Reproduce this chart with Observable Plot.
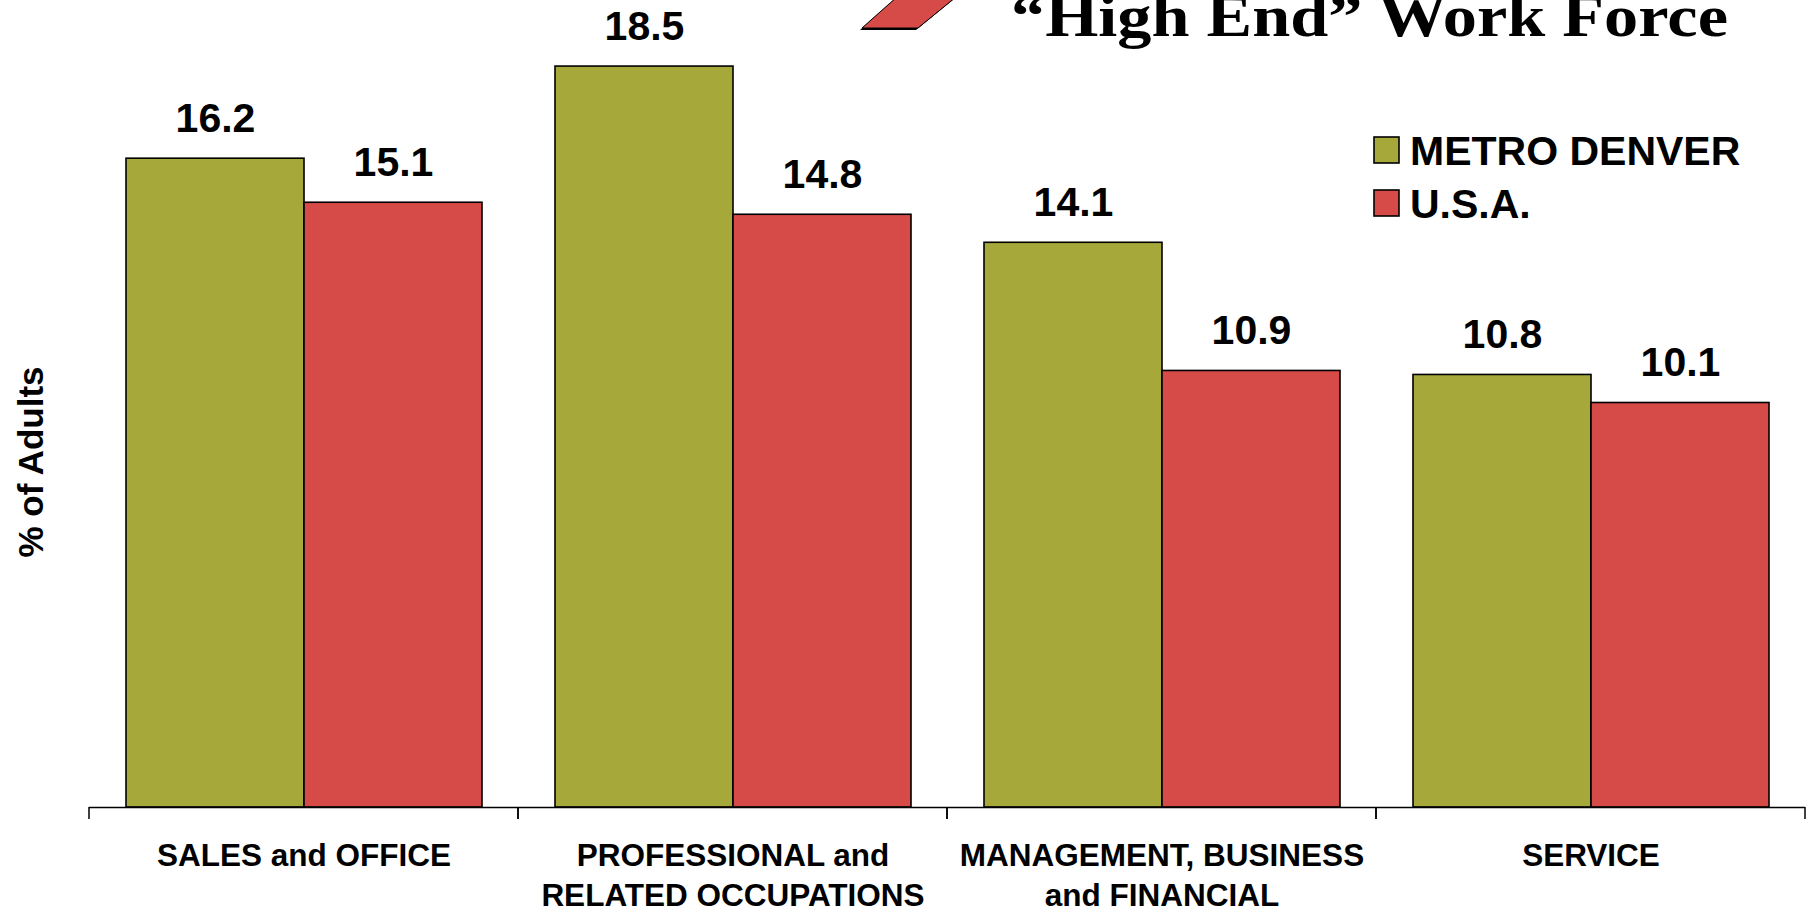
<!DOCTYPE html>
<html>
<head>
<meta charset="utf-8">
<script src="https://cdn.jsdelivr.net/npm/d3@7"></script>
<script src="https://cdn.jsdelivr.net/npm/@observablehq/plot@0.6"></script>
<style>
  html, body { margin: 0; padding: 0; background: #ffffff; }
  #wrap { position: relative; width: 1810px; height: 917px; overflow: hidden; background: #ffffff; }
  #chart { position: absolute; left: 0; top: 0; }
  #overlay { position: absolute; left: 0; top: 0; pointer-events: none; }
</style>
</head>
<body>
<div id="wrap">
  <div id="chart"></div>
  <svg id="overlay" width="1810" height="917"></svg>
</div>
<script>
// ---- data ----
const categories = [
  "SALES and OFFICE",
  "PROFESSIONAL and\nRELATED OCCUPATIONS",
  "MANAGEMENT, BUSINESS\nand FINANCIAL",
  "SERVICE"
];
const series = ["METRO DENVER", "U.S.A."];
const metroDenver = [16.2, 18.5, 14.1, 10.8];
const usa = [15.1, 14.8, 10.9, 10.1];
const seriesColors = ["#A6A93A", "#D64A47"];
const titleText = "\u201CHigh End\u201D Work Force";
const yLabel = "% of Adults";

const data = categories.flatMap((c, i) => [
  {category: c, series: series[0], value: metroDenver[i]},
  {category: c, series: series[1], value: usa[i]}
]);

// boundary ticks under the baseline, at the edges of each category band
const boundaryTicks = Plot.ruleY([0], {
  render(index, scales) {
    const {x, y} = scales;
    const [a, b] = x.range();
    const y0 = y(0);
    const g = d3.create("svg:g");
    for (const xx of [a, b]) {
      g.append("line")
        .attr("x1", xx).attr("x2", xx)
        .attr("y1", y0).attr("y2", y0 + 12)
        .attr("stroke", "black").attr("stroke-width", 1.5);
    }
    return g.node();
  }
});

const chart = Plot.plot({
  width: 1810,
  height: 917,
  marginLeft: 88,
  marginRight: 4,
  marginTop: 6,
  marginBottom: 110,
  style: {fontFamily: "'Liberation Sans', Arial, sans-serif", fontWeight: "bold", background: "white", color: "black"},
  fx: {domain: categories, padding: 0, label: null},
  x: {domain: series, paddingInner: 0, paddingOuter: 0.2, axis: null},
  y: {domain: [0, 20], axis: null},
  color: {domain: series, range: seriesColors},
  marks: [
    Plot.barY(data, {fx: "category", x: "series", y: "value", fill: "series", stroke: "black", strokeWidth: 1.6}),
    Plot.text(data, {fx: "category", x: "series", y: "value", text: d => d.value.toFixed(1), dy: -40, fontSize: 41, fontWeight: "bold", fill: "black"}),
    Plot.ruleY([0], {stroke: "black", strokeWidth: 1.5}),
    boundaryTicks,
    Plot.axisFx({anchor: "bottom", tickSize: 0, tickPadding: 30, fontSize: 31.5, fontWeight: "bold", lineHeight: 1.27, label: null, fill: "black"})
  ]
});
document.getElementById("chart").appendChild(chart);

// ---- overlay: title, decoration, legend, y label ----
const ov = d3.select("#overlay");
// decorative parallelogram with shadow
ov.append("polygon")
  .attr("points", "860,30 916,30 965,-10 905,-10")
  .attr("fill", "black");
ov.append("polygon")
  .attr("points", "862,28 918,28 967,-12 907,-12")
  .attr("fill", seriesColors[1])
  .attr("stroke", "black").attr("stroke-width", 1);

ov.append("text")
  .attr("x", 1011).attr("y", 36)
  .attr("font-family", "'Liberation Serif', 'Times New Roman', serif")
  .attr("font-weight", "bold")
  .attr("font-size", 60)
  .attr("textLength", 717)
  .attr("lengthAdjust", "spacingAndGlyphs")
  .attr("fill", "black")
  .text(titleText);

// legend
const lg = ov.append("g");
series.forEach((s, i) => {
  const top = 137 + i * 53;
  lg.append("rect")
    .attr("x", 1374).attr("y", top).attr("width", 25).attr("height", 26)
    .attr("fill", seriesColors[i]).attr("stroke", "black").attr("stroke-width", 1.6);
  lg.append("text")
    .attr("x", 1410).attr("y", top + 28)
    .attr("font-family", "'Liberation Sans', Arial, sans-serif")
    .attr("font-weight", "bold")
    .attr("font-size", 41)
    .attr("fill", "black")
    .text(s);
});

// y label
ov.append("text")
  .attr("transform", "translate(31,462) rotate(-90)")
  .attr("text-anchor", "middle")
  .attr("dy", "0.35em")
  .attr("font-family", "'Liberation Sans', Arial, sans-serif")
  .attr("font-weight", "bold")
  .attr("font-size", 35)
  .attr("fill", "black")
  .text(yLabel);
</script>
</body>
</html>
